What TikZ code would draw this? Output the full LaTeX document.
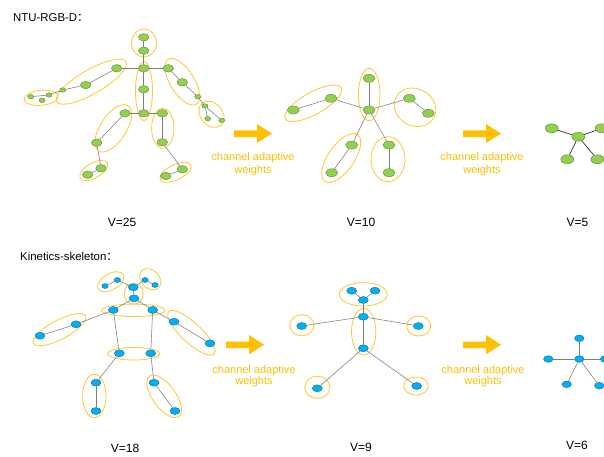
\documentclass[tikz,border=0pt]{standalone}
\usepackage{fontspec}
\setmainfont{Liberation Sans}
\newfontfamily\cjk{Noto Sans CJK SC}
\usetikzlibrary{shapes.geometric}
\definecolor{jg}{RGB}{146,208,80}
\definecolor{jgd}{RGB}{95,135,55}
\definecolor{jb}{RGB}{0,176,240}
\definecolor{jbd}{RGB}{25,105,165}
\definecolor{grpc}{RGB}{255,200,50}
\definecolor{arrc}{RGB}{255,192,0}
\definecolor{edgec}{RGB}{125,125,125}
\begin{document}
\begin{tikzpicture}[x=1pt,y=-1pt,
  gj/.style={ellipse,fill=jg,draw=jgd,line width=0.4pt,inner sep=0pt,minimum width=10.5pt,minimum height=7.5pt},
  gjs/.style={gj,minimum width=6pt,minimum height=4.5pt},
  gjm/.style={gj,minimum width=12pt,minimum height=8pt},
  gjl/.style={gj,minimum width=13pt,minimum height=9pt},
  bj/.style={ellipse,fill=jb,draw=jbd,line width=0.4pt,inner sep=0pt,minimum width=10pt,minimum height=7pt},
  bjs/.style={bj,minimum width=6.5pt,minimum height=5pt},
  bjr/.style={bj,minimum width=9.5pt,minimum height=6.7pt},
  grp/.style={ellipse,draw=grpc,line width=0.8pt,inner sep=0pt},
  edge/.style={draw=edgec,line width=0.55pt},
  dedge/.style={draw=black!80,line width=0.7pt},
  lbl/.style={inner sep=0pt,font=\fontsize{12}{14}\selectfont},
  head/.style={inner sep=0pt,anchor=west,font=\fontsize{11.4}{13}\selectfont},
  chw/.style={inner sep=0pt,text=arrc,font=\fontsize{11}{13}\selectfont},
  bigarrow/.style={fill=arrc}
]
\fill[white] (0,0) rectangle (604,456);
\useasboundingbox (0,0) rectangle (604,456);
\clip (0,0) rectangle (604,456);

% ---------- headings ----------
\node[head] (hntu) at (13,18) {NTU-RGB-D{\cjk ：}};
\node[head] (hkin) at (20,256) {Kinetics-skeleton{\cjk ：}};

% ---------- NTU skeleton groups ----------
\node[grp,minimum width=25pt,minimum height=28pt] (g1) at (144,43) {};
\node[grp,minimum width=17pt,minimum height=59pt] (g2) at (144,91) {};
\node[grp,minimum width=80pt,minimum height=24pt,rotate=30] (g3) at (91.3,81.7) {};
\node[grp,minimum width=34pt,minimum height=15pt,rotate=5] (g4) at (41.2,97.8) {};
\node[grp,minimum width=53pt,minimum height=24pt,rotate=-58] (g5) at (182.2,81.7) {};
\node[grp,minimum width=29pt,minimum height=22pt,rotate=-50] (g6) at (211.5,114.3) {};
\node[grp,minimum width=54pt,minimum height=26pt,rotate=57] (g7) at (113.3,128.3) {};
\node[grp,minimum width=22.4pt,minimum height=40pt] (g8) at (162.8,128.3) {};
\node[grp,minimum width=31pt,minimum height=15pt,rotate=30] (g9) at (93.7,170.5) {};
\node[grp,minimum width=34pt,minimum height=15pt,rotate=26] (g10) at (175.5,172.3) {};

% ---------- NTU skeleton joints ----------
\node[gj] (t1) at (143.7,37.3) {};
\node[gj] (t2) at (143.7,50.7) {};
\node[gj] (t3) at (143.7,68.3) {};
\node[gj] (t4) at (143.7,89.3) {};
\node[gj] (t5) at (143.7,113.3) {};
\node[gj] (t6) at (116.7,68.3) {};
\node[gj] (t7) at (85.7,85) {};
\node[gjs] (t8) at (62.7,90) {};
\node[gjs] (t9) at (49,95) {};
\node[gjs] (t10) at (30.7,96.7) {};
\node[gjs] (t11) at (42,100.3) {};
\node[gj] (t12) at (168.3,68.3) {};
\node[gj] (t13) at (182.3,82.3) {};
\node[gjs] (t14) at (197.7,96.7) {};
\node[gjs] (t15) at (205,106) {};
\node[gjs] (t16) at (221.7,120.3) {};
\node[gjs] (t17) at (207.7,118.7) {};
\node[gj] (t18) at (125,113.3) {};
\node[gj] (t19) at (96.7,142.7) {};
\node[gj] (t20) at (101,168.3) {};
\node[gj] (t21) at (87.7,174.7) {};
\node[gj] (t22) at (162.3,113.3) {};
\node[gj] (t23) at (162.3,142.3) {};
\node[gj] (t24) at (182.3,169.3) {};
\node[gj] (t25) at (165.7,176) {};

\foreach \a/\b in {t1/t2,t2/t3,t3/t6,t3/t12,t3/t4,t4/t5,t5/t18,t5/t22,t6/t7,t7/t8,t8/t9,t9/t10,
  t12/t13,t13/t14,t14/t15,t15/t16,t15/t17,t18/t19,t19/t20,t20/t21,t22/t23,t23/t24,t24/t25}
  \draw[edge] (\a) -- (\b);

% ---------- V=10 graph ----------
\node[grp,minimum width=21.6pt,minimum height=52.4pt] (ga) at (369.2,94.5) {};
\node[grp,minimum width=64pt,minimum height=22pt,rotate=29] (gb) at (313.3,103.3) {};
\node[grp,minimum width=43pt,minimum height=37pt,rotate=-30] (gc) at (415,107.3) {};
\node[grp,minimum width=57pt,minimum height=26pt,rotate=55] (gd) at (341.2,158) {};
\node[grp,minimum width=34pt,minimum height=45pt] (ge) at (388,159.2) {};

\node[gjm] (m1) at (369,78.3) {};
\node[gjm] (m2) at (369,110) {};
\node[gjm] (m3) at (331,98.3) {};
\node[gjm] (m4) at (293.3,110) {};
\node[gjm] (m5) at (409.3,98.3) {};
\node[gjm] (m6) at (428.3,113.3) {};
\node[gjm] (m7) at (351.7,145) {};
\node[gjm] (m8) at (331.7,172.7) {};
\node[gjm] (m9) at (389,145) {};
\node[gjm] (m10) at (389,172.7) {};
\foreach \a/\b in {m1/m2,m2/m3,m3/m4,m2/m5,m5/m6,m2/m7,m7/m8,m2/m9,m9/m10}
  \draw[edge] (\a) -- (\b);

% ---------- V=5 graph ----------
\node[gjl] (r1) at (551.7,128.3) {};
\node[gjl] (r2) at (578.3,136.7) {};
\node[gjl] (r3) at (601.7,128.3) {};
\node[gjl] (r4) at (567.3,159.3) {};
\node[gjl] (r5) at (597.3,159.3) {};
\foreach \a/\b in {r1/r2,r2/r3,r2/r4,r2/r5}
  \draw[dedge] (\a) -- (\b);

% ---------- Kinetics skeleton groups ----------
\node[grp,minimum width=29pt,minimum height=16pt,rotate=30] (kg1) at (110.8,281.7) {};
\node[grp,minimum width=24pt,minimum height=18pt,rotate=-45] (kg2) at (150.3,279.2) {};
\node[grp,minimum width=19pt,minimum height=21pt] (kg3) at (133.7,293.7) {};
\node[grp,minimum width=63.4pt,minimum height=12.4pt] (kg4) at (133.3,310.3) {};
\node[grp,minimum width=59pt,minimum height=19pt,rotate=28] (kg5) at (59.5,329.7) {};
\node[grp,minimum width=62pt,minimum height=20pt,rotate=-43] (kg6) at (191.3,332.8) {};
\node[grp,minimum width=52pt,minimum height=12.6pt] (kg7) at (133.7,353.7) {};
\node[grp,minimum width=23.4pt,minimum height=43.4pt] (kg8) at (94.3,396) {};
\node[grp,minimum width=50pt,minimum height=23pt,rotate=-54] (kg9) at (164.2,396.3) {};

% ---------- Kinetics joints ----------
\node[bjs] (k1) at (105,286) {};
\node[bjs] (k2) at (117.3,280) {};
\node[bj] (k3) at (133.3,287.3) {};
\node[bjs] (k4) at (145,280) {};
\node[bjs] (k5) at (155,285) {};
\node[bj] (k6) at (134,298.3) {};
\node[bj] (k7) at (113.3,310) {};
\node[bj] (k8) at (152.7,310) {};
\node[bj] (k9) at (76,324.3) {};
\node[bj] (k10) at (40,335.7) {};
\node[bj] (k11) at (174,321.7) {};
\node[bj] (k12) at (210,343.3) {};
\node[bj] (k13) at (119.3,353.3) {};
\node[bj] (k14) at (150.7,353.3) {};
\node[bj] (k15) at (96,382.7) {};
\node[bj] (k16) at (96,411) {};
\node[bj] (k17) at (154,382.7) {};
\node[bj] (k18) at (175,411) {};
\foreach \a/\b in {k1/k2,k2/k3,k3/k4,k4/k5,k3/k6,k6/k7,k6/k8,k7/k9,k9/k10,k8/k11,k11/k12,
  k7/k13,k8/k14,k13/k15,k15/k16,k14/k17,k17/k18}
  \draw[edge] (\a) -- (\b);

% ---------- V=9 graph ----------
\node[grp,minimum width=48pt,minimum height=23.4pt] (ng1) at (363.3,294.3) {};
\node[grp,minimum width=24.4pt,minimum height=46.6pt] (ng2) at (363.7,331.7) {};
\node[grp,minimum width=24.4pt,minimum height=21pt] (ng3) at (302,325.3) {};
\node[grp,minimum width=24pt,minimum height=20pt] (ng4) at (418.7,326) {};
\node[grp,minimum width=25pt,minimum height=22.4pt] (ng5) at (317.3,387.3) {};
\node[grp,minimum width=24.4pt,minimum height=18pt] (ng6) at (416,386) {};

\node[bj] (n1) at (351.7,290.7) {};
\node[bj] (n2) at (375,290.7) {};
\node[bj] (n3) at (363.3,300) {};
\node[bj] (n4) at (363.3,316.7) {};
\node[bj] (n5) at (363.3,348.3) {};
\node[bj] (n6) at (301.7,326) {};
\node[bj] (n7) at (418.3,326) {};
\node[bj] (n8) at (317.3,388.3) {};
\node[bj] (n9) at (416.7,386) {};
\foreach \a/\b in {n1/n3,n2/n3,n3/n4,n4/n6,n4/n7,n4/n5,n5/n8,n5/n9}
  \draw[edge] (\a) -- (\b);

% ---------- V=6 graph ----------
\node[bjr] (p1) at (579.3,338.3) {};
\node[bjr] (p2) at (579.3,359) {};
\node[bjr] (p3) at (548.3,359) {};
\node[bjr] (p4) at (605,359) {};
\node[bjr] (p5) at (566.7,384.3) {};
\node[bjr] (p6) at (599.3,385.7) {};
\foreach \a/\b in {p1/p2,p3/p2,p2/p4,p2/p5,p2/p6}
  \draw[edge] (\a) -- (\b);

% ---------- arrows ----------
\fill[bigarrow] (234,130.3) -- (257,130.3) -- (257,124) -- (272,133.5) -- (257,143) -- (257,137) -- (234,137) -- cycle;
\fill[bigarrow] (463,130.3) -- (486,130.3) -- (486,124) -- (501,133.5) -- (486,143) -- (486,137) -- (463,137) -- cycle;
\fill[bigarrow] (226,341.5) -- (249,341.5) -- (249,335) -- (264,344.7) -- (249,354.3) -- (249,348.2) -- (226,348.2) -- cycle;
\fill[bigarrow] (463,341.5) -- (486,341.5) -- (486,335) -- (501,344.7) -- (486,354.3) -- (486,348.2) -- (463,348.2) -- cycle;

% ---------- texts ----------
\node[chw] (c1a) at (253,158) {channel adaptive};
\node[chw] (c1b) at (253,170.5) {weights};
\node[chw] (c2a) at (482,158) {channel adaptive};
\node[chw] (c2b) at (482,170.5) {weights};
\node[chw] (c3a) at (254,370.5) {channel adaptive};
\node[chw] (c3b) at (254,382) {weights};
\node[chw] (c4a) at (483,370.5) {channel adaptive};
\node[chw] (c4b) at (483,382) {weights};

\node[lbl] (v25) at (122,222) {V=25};
\node[lbl] (v10) at (361,222) {V=10};
\node[lbl] (v5) at (577.5,222) {V=5};
\node[lbl] (v18) at (125,448.5) {V=18};
\node[lbl] (v9) at (361,447.7) {V=9};
\node[lbl] (v6) at (577,445) {V=6};
\end{tikzpicture}
\end{document}
